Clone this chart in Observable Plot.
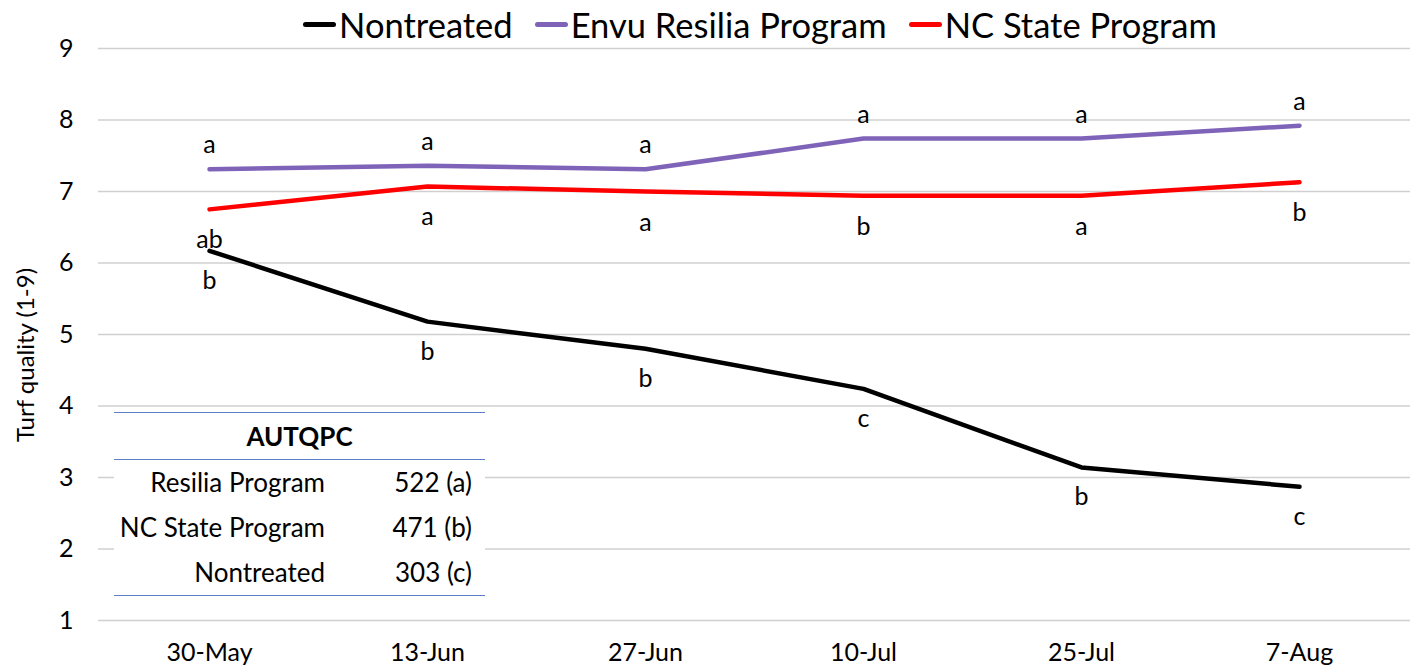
<!DOCTYPE html>
<html><head><meta charset="utf-8">
<script src="https://cdn.jsdelivr.net/npm/d3@7"></script>
<script src="https://cdn.jsdelivr.net/npm/@observablehq/plot@0.6"></script>
<style>
body{margin:0;background:#fff;font-family:Lato,sans-serif;}
#wrap{position:relative;width:1417px;height:667px;overflow:hidden;background:#fff;}
#legend{position:absolute;top:4px;left:0;width:1520px;display:flex;justify-content:center;align-items:center;font-size:34.5px;color:#000;white-space:nowrap;}
.item{display:flex;align-items:center;margin:0 11px;}
.sw{width:33px;height:5px;border-radius:3px;margin-right:3px;}
#tbl{position:absolute;left:114px;top:412px;width:371px;background:#fff;border-top:1.5px solid #5b7fc7;border-bottom:1.5px solid #5b7fc7;font-size:26px;color:#000;}
#tbl .hd{height:46px;line-height:46px;text-align:center;font-weight:bold;border-bottom:1.5px solid #5b7fc7;}
#tbl .row{height:45px;line-height:45px;display:flex;}
#tbl .lab{width:211px;text-align:right;}
#tbl .val{width:147px;text-align:right;}
#ytitle{position:absolute;left:24px;top:355px;transform:translate(-50%,-50%) rotate(-90deg);font-size:24px;white-space:nowrap;color:#000;}
</style></head><body><div id="wrap"><div id="legend"></div><div id="tbl"></div><div id="ytitle"></div></div>
<script>
const dates = ["30-May","13-Jun","27-Jun","10-Jul","25-Jul","7-Aug"];
const seriesNames = ["Nontreated","Envu Resilia Program","NC State Program"];
const nontreated = [6.17,5.18,4.80,4.24,3.14,2.87];
const resilia = [7.31,7.36,7.31,7.74,7.74,7.92];
const ncstate = [6.75,7.07,7.00,6.94,6.94,7.13];
const nontreatedLetters = ["b","b","b","c","b","c"];
const resiliaLetters = ["a","a","a","a","a","a"];
const ncstateLetters = ["ab","a","a","b","a","b"];
const yTicks = [1,2,3,4,5,6,7,8,9];
const yTitle = "Turf quality (1-9)";
const tableTitle = "AUTQPC";
const tableRows = ["Resilia Program","NC State Program","Nontreated"];
const tableValues = ["522 (a)","471 (b)","303 (c)"];
const colors = ["#000000","#7f63b8","#ff0000"];

const seriesVals = [nontreated, resilia, ncstate];
const seriesLetters = [nontreatedLetters, resiliaLetters, ncstateLetters];
const letterDy = [30, -24, 31];
const rows = [];
seriesNames.forEach((s,i)=>dates.forEach((d,j)=>rows.push({series:s, date:d, value:seriesVals[i][j], letter:seriesLetters[i][j]})));

const marks = [
  Plot.gridY(yTicks, {stroke:"#d0d0d0", strokeOpacity:1, strokeWidth:1.5}),
  Plot.axisY({ticks:yTicks, tickSize:0, tickPadding:25, fontSize:25, label:null}),
  Plot.axisX({tickSize:0, tickPadding:23, fontSize:25, label:null})
];
seriesNames.forEach((s,i)=>{
  const data = rows.filter(r=>r.series===s);
  marks.push(Plot.line(data, {x:"date", y:"value", stroke:colors[i], strokeWidth:4.5, style:"filter:drop-shadow(2px 2px 1.5px rgba(0,0,0,0.25))"}));
  marks.push(Plot.text(data, {x:"date", y:"value", text:"letter", dy:letterDy[i], fontSize:25, fill:"#000", lineAnchor:"middle"}));
});

const chart = Plot.plot({
  width:1417, height:667,
  marginTop:48, marginBottom:47, marginLeft:98, marginRight:7,
  style:{fontFamily:"Lato, sans-serif", color:"#000", background:"transparent"},
  x:{type:"point", domain:dates, padding:0.5, axis:null},
  y:{domain:[1,9], axis:null},
  marks
});
chart.style.position="absolute"; chart.style.left="0"; chart.style.top="0";
const wrap = document.getElementById("wrap");
wrap.insertBefore(chart, wrap.firstChild);

d3.select("#ytitle").text(yTitle);

const leg = d3.select("#legend");
seriesNames.forEach((s,i)=>{
  const it = leg.append("div").attr("class","item");
  it.append("div").attr("class","sw").style("background", colors[i]);
  it.append("span").text(s);
});

const tbl = d3.select("#tbl");
tbl.append("div").attr("class","hd").text(tableTitle);
tableRows.forEach((r,i)=>{
  const row = tbl.append("div").attr("class","row");
  row.append("div").attr("class","lab").text(r);
  row.append("div").attr("class","val").text(tableValues[i]);
});
</script></body></html>
